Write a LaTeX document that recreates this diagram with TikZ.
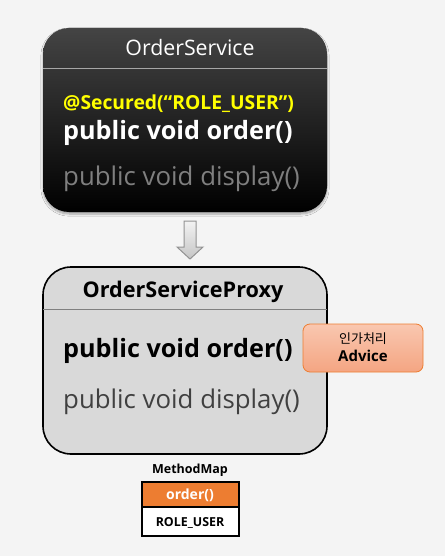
\documentclass[tikz,border=0pt]{standalone}
\usepackage{fontspec}
\setmainfont{Open Sans}
\newfontfamily\krfont{Noto Sans CJK KR}
\usetikzlibrary{shadows.blur}
\definecolor{bgcol}{HTML}{F4F4F4}
\definecolor{topgray}{HTML}{444444}
\definecolor{secyellow}{HTML}{FFFF00}
\definecolor{dimtext}{HTML}{7F7F7F}
\definecolor{proxyfill}{HTML}{D9D9D9}
\definecolor{proxydim}{HTML}{404040}
\definecolor{advtop}{HTML}{F9C7B0}
\definecolor{advbot}{HTML}{F4A582}
\definecolor{orangeline}{HTML}{ED7D31}
\newcommand{\fsz}[1]{\fontsize{#1}{#1}\selectfont}
\begin{document}
\begin{tikzpicture}[x=1pt,y=-1pt]
  \fill[bgcol] (0,0) rectangle (445,556);
  \useasboundingbox (0,0) rectangle (445,556);
  % OrderService (target)
  \shade[rounded corners=26pt, top color=topgray, middle color=black, bottom color=black,
    blur shadow={shadow xshift=0pt, shadow yshift=-2pt, shadow blur steps=6, shadow opacity=35}]
    (43,28) rectangle (327,212);
  \draw[gray!70] (43,68) -- (327,68);
  \node[anchor=base, text=white, font=\fsz{21.3}] (svctitle) at (190,56) {OrderService};
  \node[anchor=base west, inner sep=0, text=secyellow, font=\bfseries\fsz{19.3}] (svcsec) at (63,110) {@Secured(“ROLE\_USER”)};
  \node[anchor=base west, inner sep=0, text=white, font=\bfseries\fsz{25.2}] (svcorder) at (63,140) {public void order()};
  \node[anchor=base west, inner sep=0, text=dimtext, font=\fsz{25.8}] (svcdisp) at (63,185) {public void display()};
  % Arrow down
  \coordinate (arrtop) at (190,221);
  \coordinate (arrtip) at (190,259);
  \shade[top color=gray!10, bottom color=gray!45, draw=gray!85, line width=1pt]
    (184,221) -- (196,221) -- (196,247) -- (203,247) -- (arrtip) -- (177,247) -- (184,247) -- cycle;
  % OrderServiceProxy
  \draw[fill=proxyfill, line width=1.6pt, rounded corners=28pt] (43,267) rectangle (327,454);
  \draw[gray] (43,309) -- (327,309);
  \node[anchor=base, font=\bfseries\fsz{21.6}] (proxytitle) at (183,297) {OrderServiceProxy};
  \node[anchor=base west, inner sep=0, font=\bfseries\fsz{25.2}] (proxyorder) at (63,357) {public void order()};
  \node[anchor=base west, inner sep=0, text=proxydim, font=\fsz{25.8}] (proxydisp) at (63,408) {public void display()};
  % Advice
  \shade[rounded corners=7pt, top color=advtop, bottom color=advbot, draw=orangeline, line width=0.8pt]
    (303,324) rectangle (423,372);
  \node[anchor=base, font=\krfont\fsz{13}] (advkr) at (363,343) {인가처리};
  \node[anchor=base, font=\bfseries\fsz{15}] (advtext) at (363,361) {Advice};
  % MethodMap
  \node[anchor=base, font=\bfseries\fsz{12.5}] (maplabel) at (190,473) {MethodMap};
  \fill[orangeline] (142,482) rectangle (239,507);
  \fill[white] (142,507) rectangle (239,536);
  \draw[line width=1.6pt] (142,482) rectangle (239,536);
  \draw[line width=1.6pt] (142,507) -- (239,507);
  \node[anchor=base, text=white, font=\bfseries\fsz{14}] (maporder) at (190,499) {order()};
  \node[anchor=base, font=\bfseries\fsz{12.4}] (maprole) at (190,526) {ROLE\_USER};
\end{tikzpicture}
\end{document}
